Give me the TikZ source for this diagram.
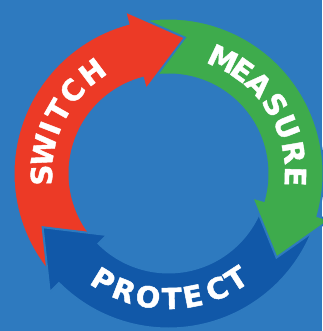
\documentclass[tikz,border=0pt]{standalone}
\usepackage{fontspec}
\setmainfont{DejaVu Sans}
\newfontfamily\cycfont{DejaVu Sans}[BoldFeatures={FakeBold=1.5}]
\usepackage{xcolor}
\usepackage{tikz}
\usetikzlibrary{calc}

\definecolor{bgblue}{RGB}{46,122,191}
\definecolor{cycred}{RGB}{236,58,38}
\definecolor{cycgreen}{RGB}{62,171,76}
\definecolor{cycblue}{RGB}{17,88,168}

\tikzset{
  %% Curved arrow of the cycle
  ringarr/.style={
    fill=#1, draw=bgblue, line width=2pt, line join=miter
  },
  ringarr/.default=cycred,
  %% Single letter on the ring
  ltr/.style={
    text=white, inner sep=0pt,
    font=\fontsize{29}{29}\selectfont\cycfont\bfseries
  },
}

%% tail angle, head base angle, colour
\newcommand{\cyclearrow}[3]{%
  \filldraw[ringarr=#3]
    (#1:99pt) arc[start angle=#1, end angle=#2, radius=99pt]
    -- (#2:87pt) -- ($(#2:127pt)+(#2-90:51pt)$) -- (#2:168pt)
    -- (#2:155pt) arc[start angle=#2, end angle=#1, radius=155pt]
    -- cycle;
}

\begin{document}
\begin{tikzpicture}

  %% Background
  \fill[bgblue] (-168.5pt,-157.5pt) rectangle (153.5pt,173.5pt);
  \useasboundingbox (-168.5pt,-157.5pt) rectangle (153.5pt,173.5pt);

  %% Arrows (red tail under blue head, blue tail under green head)
  \cyclearrow{219}{105}{cycred}
  \cyclearrow{-22}{-135}{cycblue}
  \cyclearrow{99}{-16}{cycgreen}

  %% Red head again, over the green tail
  \begin{scope}
    \clip (0,0) -- (75:200pt) arc[start angle=75, end angle=112, radius=200pt] -- cycle;
    \cyclearrow{219}{105}{cycred}
  \end{scope}

  %% Labels
  \foreach \ch/\ang [count=\i] in {S/180.7, W/169.4, I/159, T/150.3, C/139.4, H/126.9}
    \node[ltr, rotate=\ang-90] (sw\i) at (\ang:127pt) {\ch};

  \foreach \ch/\ang [count=\i] in {M/64.6, E/54.5, A/44.6, S/32.9, U/21.6, R/9.6, E/-1.4}
    \node[ltr, rotate=\ang-90] (ms\i) at (\ang:127pt) {\ch};

  \foreach \ch/\ang [count=\i] in {P/238.5, R/249.2, O/260.6, T/271.5, E/281.2, C/292.8, T/302.8}
    \node[ltr, rotate=\ang+90] (pr\i) at (\ang:125pt) {\ch};

\end{tikzpicture}
\end{document}
